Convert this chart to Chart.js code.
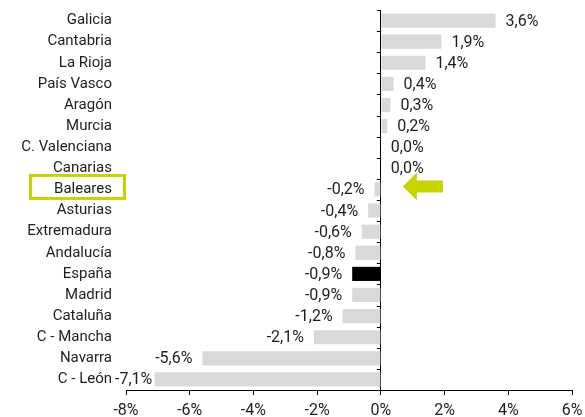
<!DOCTYPE html>
<html>
<head>
<meta charset="utf-8">
<script src="https://cdn.jsdelivr.net/npm/chart.js@4"></script>
<style>
  body { margin: 0; background: #fff; }
  #wrap { width: 585px; height: 417px; }
</style>
</head>
<body>
<div id="wrap"><canvas id="regionsChart"></canvas></div>
<script>
const regions = ['Galicia', 'Cantabria', 'La Rioja', 'País Vasco', 'Aragón', 'Murcia',
  'C. Valenciana', 'Canarias', 'Baleares', 'Asturias', 'Extremadura', 'Andalucía',
  'España', 'Madrid', 'Cataluña', 'C - Mancha', 'Navarra', 'C - León'];
const change = [3.6, 1.9, 1.4, 0.4, 0.3, 0.2, 0.0, 0.0, -0.2, -0.4, -0.6, -0.8,
  -0.9, -0.9, -1.2, -2.1, -5.6, -7.1];
const xTicks = [-8, -6, -4, -2, 0, 2, 4, 6];
const totalRegion = 'España';
const markedRegion = 'Baleares';

const textColor = '#1e1e1e';
const accent = '#c4d400';
const font = { family: 'Roboto', size: 15 };
const numFont = { family: 'Roboto', size: 16 };

const fmt = v => v.toFixed(1).replace('.', ',') + '%';

// value labels next to each bar end
const valueLabels = {
  id: 'valueLabels',
  afterDatasetsDraw(chart) {
    const ctx = chart.ctx;
    const meta = chart.getDatasetMeta(0);
    const left = chart.chartArea.left;
    ctx.save();
    ctx.font = numFont.size + 'px ' + numFont.family;
    ctx.fillStyle = textColor;
    ctx.textBaseline = 'middle';
    meta.data.forEach((bar, i) => {
      const v = change[i];
      const txt = fmt(v);
      if (v >= 0) {
        ctx.textAlign = 'left';
        ctx.fillText(txt, bar.x + 10, bar.y + 1);
      } else {
        // keep the label from running into the category names
        const w = ctx.measureText(txt).width;
        const xr = Math.max(bar.x - 10, left - 11 + w);
        ctx.textAlign = 'right';
        ctx.fillText(txt, xr, bar.y + 1);
      }
    });
    ctx.restore();
  }
};

// small ticks on the zero line, box and arrow for the marked region
const extras = {
  id: 'extras',
  afterDraw(chart) {
    const ctx = chart.ctx;
    const x = chart.scales.x, y = chart.scales.y;
    const x0 = x.getPixelForValue(0);
    ctx.save();
    ctx.strokeStyle = '#000';
    ctx.lineWidth = 1;
    ctx.beginPath();
    for (let i = 0; i <= regions.length; i++) {
      const py = Math.round(y.getPixelForValue(i - 0.5)) + 0.5;
      ctx.moveTo(x0 - 4, py);
      ctx.lineTo(x0, py);
    }
    ctx.stroke();

    const yb = y.getPixelForValue(regions.indexOf(markedRegion));
    ctx.strokeStyle = accent;
    ctx.lineWidth = 3;
    ctx.strokeRect(30.5, yb - 14, 94, 23);

    const ya = yb - 3;
    ctx.fillStyle = accent;
    ctx.beginPath();
    ctx.moveTo(x0 + 22, ya);
    ctx.lineTo(x0 + 36, ya - 14);
    ctx.lineTo(x0 + 36, ya - 6);
    ctx.lineTo(x0 + 62, ya - 6);
    ctx.lineTo(x0 + 62, ya + 6);
    ctx.lineTo(x0 + 36, ya + 6);
    ctx.lineTo(x0 + 36, ya + 14);
    ctx.closePath();
    ctx.fill();
    ctx.restore();
  }
};

new Chart(document.getElementById('regionsChart'), {
  type: 'bar',
  data: {
    labels: regions,
    datasets: [{
      data: change,
      backgroundColor: regions.map(r => r === totalRegion ? '#000000' : '#d9d9d9'),
      barPercentage: 0.67,
      categoryPercentage: 1
    }]
  },
  options: {
    indexAxis: 'y',
    responsive: true,
    maintainAspectRatio: false,
    animation: false,
    layout: { padding: { top: 10, right: 13, left: 0, bottom: 0 } },
    plugins: {
      legend: { display: false },
      tooltip: { enabled: false }
    },
    scales: {
      x: {
        min: -8,
        max: 6,
        afterBuildTicks: s => { s.ticks = xTicks.map(v => ({ value: v })); },
        afterFit: s => { s.height = 27; s.paddingLeft = 0; s.paddingRight = 0; },
        ticks: {
          callback: v => v + '%',
          font: numFont,
          color: textColor,
          padding: 6,
          maxRotation: 0
        },
        grid: {
          color: c => (c.tick && c.tick.value === 0) ? '#000' : 'rgba(0,0,0,0)',
          tickColor: '#000',
          tickLength: 5,
          drawTicks: true
        },
        border: { display: true, color: '#000' }
      },
      y: {
        afterFit: s => { s.width = 126; s.paddingTop = 0; s.paddingBottom = 0; },
        ticks: { font: font, color: textColor, padding: 14, autoSkip: false },
        grid: { display: false, drawTicks: false },
        border: { display: false }
      }
    }
  },
  plugins: [valueLabels, extras]
});
</script>
</body>
</html>
